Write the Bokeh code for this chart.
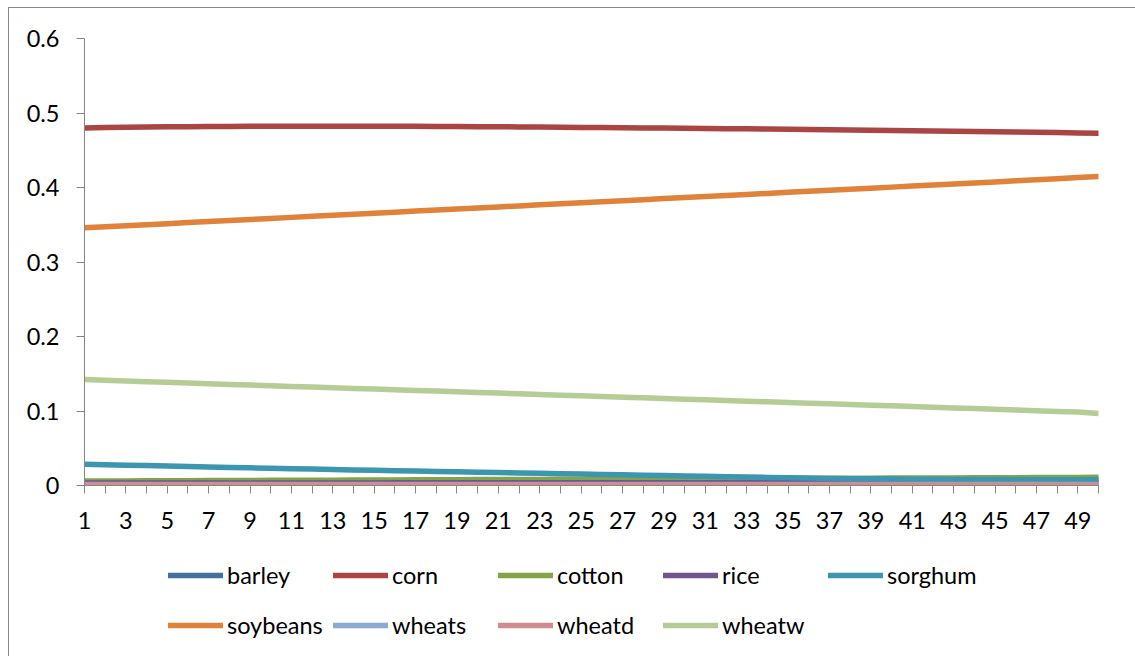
from bokeh.plotting import figure
from bokeh.layouts import column
from bokeh.models import FixedTicker, Legend, LegendItem
from bokeh.embed import file_html
from bokeh.resources import INLINE

# ---- data ----
periods = list(range(1, 51))

barley = [0.0022, 0.0022, 0.0022, 0.0022, 0.0022, 0.0022, 0.0022, 0.0022, 0.0022, 0.0022,
          0.0022, 0.0022, 0.0022, 0.0022, 0.0022, 0.0022, 0.0022, 0.0022, 0.0022, 0.0022,
          0.0021, 0.0021, 0.0021, 0.0021, 0.0021, 0.0021, 0.0021, 0.0021, 0.0021, 0.0021,
          0.0021, 0.0021, 0.0021, 0.0021, 0.0021, 0.0020, 0.0020, 0.0020, 0.0020, 0.0020,
          0.0020, 0.0020, 0.0020, 0.0020, 0.0020, 0.0020, 0.0020, 0.0020, 0.0020, 0.0020]

corn = [0.4800, 0.4804, 0.4808, 0.4811, 0.4814, 0.4816, 0.4818, 0.4820, 0.4821, 0.4822,
        0.4823, 0.4823, 0.4823, 0.4823, 0.4823, 0.4822, 0.4821, 0.4820, 0.4818, 0.4817,
        0.4815, 0.4813, 0.4811, 0.4808, 0.4806, 0.4804, 0.4802, 0.4800, 0.4798, 0.4796,
        0.4793, 0.4790, 0.4787, 0.4784, 0.4781, 0.4778, 0.4775, 0.4772, 0.4769, 0.4766,
        0.4762, 0.4759, 0.4755, 0.4751, 0.4748, 0.4744, 0.4740, 0.4737, 0.4733, 0.4729]

cotton = [0.0060, 0.0061, 0.0062, 0.0063, 0.0064, 0.0065, 0.0066, 0.0067, 0.0068, 0.0069,
          0.0070, 0.0071, 0.0072, 0.0073, 0.0074, 0.0075, 0.0076, 0.0077, 0.0078, 0.0079,
          0.0080, 0.0081, 0.0082, 0.0083, 0.0084, 0.0085, 0.0086, 0.0087, 0.0088, 0.0089,
          0.0090, 0.0091, 0.0092, 0.0093, 0.0094, 0.0095, 0.0096, 0.0097, 0.0098, 0.0099,
          0.0100, 0.0101, 0.0102, 0.0103, 0.0104, 0.0105, 0.0106, 0.0107, 0.0108, 0.0110]

rice = [0.0035, 0.0035, 0.0035, 0.0035, 0.0035, 0.0035, 0.0035, 0.0035, 0.0035, 0.0035,
        0.0035, 0.0035, 0.0035, 0.0035, 0.0035, 0.0036, 0.0036, 0.0036, 0.0036, 0.0036,
        0.0036, 0.0036, 0.0036, 0.0036, 0.0036, 0.0036, 0.0036, 0.0036, 0.0036, 0.0036,
        0.0037, 0.0037, 0.0037, 0.0037, 0.0037, 0.0037, 0.0037, 0.0037, 0.0037, 0.0037,
        0.0037, 0.0037, 0.0037, 0.0037, 0.0037, 0.0037, 0.0037, 0.0037, 0.0037, 0.0037]

sorghum = [0.0286, 0.0280, 0.0273, 0.0267, 0.0261, 0.0255, 0.0249, 0.0243, 0.0237, 0.0231,
           0.0225, 0.0220, 0.0214, 0.0209, 0.0204, 0.0199, 0.0194, 0.0189, 0.0184, 0.0179,
           0.0174, 0.0169, 0.0164, 0.0159, 0.0154, 0.0149, 0.0144, 0.0139, 0.0134, 0.0129,
           0.0124, 0.0119, 0.0114, 0.0109, 0.0104, 0.0099, 0.0095, 0.0092, 0.0089, 0.0087,
           0.0085, 0.0083, 0.0081, 0.0080, 0.0079, 0.0078, 0.0077, 0.0077, 0.0076, 0.0076]

soybeans = [0.3459, 0.3473, 0.3487, 0.3501, 0.3515, 0.3529, 0.3543, 0.3557, 0.3571, 0.3585,
            0.3599, 0.3613, 0.3627, 0.3641, 0.3655, 0.3669, 0.3683, 0.3697, 0.3711, 0.3725,
            0.3739, 0.3753, 0.3767, 0.3781, 0.3795, 0.3809, 0.3823, 0.3837, 0.3851, 0.3865,
            0.3879, 0.3893, 0.3907, 0.3921, 0.3935, 0.3949, 0.3963, 0.3977, 0.3991, 0.4005,
            0.4019, 0.4033, 0.4047, 0.4061, 0.4075, 0.4089, 0.4103, 0.4117, 0.4133, 0.4148]

wheats = [0.0015, 0.0015, 0.0015, 0.0015, 0.0015, 0.0015, 0.0015, 0.0015, 0.0015, 0.0015,
          0.0015, 0.0015, 0.0015, 0.0015, 0.0015, 0.0015, 0.0015, 0.0015, 0.0015, 0.0015,
          0.0015, 0.0015, 0.0015, 0.0015, 0.0015, 0.0014, 0.0014, 0.0014, 0.0014, 0.0014,
          0.0014, 0.0014, 0.0014, 0.0014, 0.0014, 0.0014, 0.0014, 0.0014, 0.0014, 0.0014,
          0.0014, 0.0014, 0.0014, 0.0014, 0.0014, 0.0014, 0.0014, 0.0014, 0.0014, 0.0014]

wheatd = [0.0008, 0.0008, 0.0008, 0.0008, 0.0008, 0.0008, 0.0008, 0.0008, 0.0008, 0.0008,
          0.0008, 0.0008, 0.0008, 0.0008, 0.0008, 0.0008, 0.0008, 0.0008, 0.0008, 0.0008,
          0.0008, 0.0008, 0.0008, 0.0008, 0.0008, 0.0008, 0.0008, 0.0008, 0.0008, 0.0008,
          0.0008, 0.0008, 0.0008, 0.0008, 0.0008, 0.0008, 0.0008, 0.0008, 0.0008, 0.0008,
          0.0008, 0.0008, 0.0008, 0.0008, 0.0008, 0.0008, 0.0008, 0.0008, 0.0008, 0.0008]

wheatw = [0.1423, 0.1413, 0.1404, 0.1394, 0.1385, 0.1375, 0.1366, 0.1357, 0.1348, 0.1339,
          0.1330, 0.1321, 0.1312, 0.1303, 0.1294, 0.1285, 0.1276, 0.1267, 0.1258, 0.1249,
          0.1240, 0.1231, 0.1222, 0.1213, 0.1204, 0.1195, 0.1186, 0.1177, 0.1168, 0.1159,
          0.1150, 0.1141, 0.1132, 0.1123, 0.1114, 0.1105, 0.1096, 0.1087, 0.1078, 0.1069,
          0.1060, 0.1050, 0.1041, 0.1032, 0.1022, 0.1013, 0.1004, 0.0994, 0.0985, 0.0966]

series_names = ["barley", "corn", "cotton", "rice", "sorghum",
                "soybeans", "wheats", "wheatd", "wheatw"]
series_values = [barley, corn, cotton, rice, sorghum, soybeans, wheats, wheatd, wheatw]
series_colors = ["#44709F", "#A94543", "#84A44A", "#70558F", "#3C96B0",
                 "#E0823A", "#8AAAD2", "#D08C8E", "#B5CC94"]

y_ticks = [0, 0.1, 0.2, 0.3, 0.4, 0.5, 0.6]
y_tick_labels = ["0", "0.1", "0.2", "0.3", "0.4", "0.5", "0.6"]
x_label_ticks = list(range(1, 51, 2))
x_minor_ticks = list(range(2, 51, 2))

FONT = "Lato"
FSIZE = "23.5px"
AXIS_COLOR = "#868686"
LINE_W = 5.5

top_css = {
    "background-image": "linear-gradient(#868686, #868686), linear-gradient(#868686, #868686)",
    "background-size": "1px 100%, 100% 1px",
    "background-position": "8px 7px, 8px 7px",
    "background-repeat": "no-repeat",
}
bottom_css = {
    "background-image": "linear-gradient(#868686, #868686)",
    "background-size": "1px 100%",
    "background-position": "8px 0px",
    "background-repeat": "no-repeat",
}

p = figure(width=1135, height=545, output_backend="svg", toolbar_location=None,
           x_range=(1, 50), y_range=(0, 0.6),
           min_border_left=84, min_border_right=37, min_border_top=38, min_border_bottom=60,
           background_fill_color="white", border_fill_alpha=0,
           styles=top_css)
p.outline_line_color = None
p.grid.visible = False

# y axis
p.yaxis.ticker = FixedTicker(ticks=y_ticks)
p.yaxis.major_label_overrides = {t: l for t, l in zip(y_ticks, y_tick_labels)}
p.yaxis.axis_line_color = AXIS_COLOR
p.yaxis.major_tick_line_color = AXIS_COLOR
p.yaxis.major_tick_out = 8
p.yaxis.major_tick_in = 0
p.yaxis.minor_tick_line_color = None
p.yaxis.major_label_standoff = 17
p.yaxis.major_label_text_font = FONT
p.yaxis.major_label_text_font_size = FSIZE
p.yaxis.major_label_text_color = "black"

# x axis
p.xaxis.ticker = FixedTicker(ticks=x_label_ticks, minor_ticks=x_minor_ticks)
p.xaxis.axis_line_color = AXIS_COLOR
p.xaxis.major_tick_line_color = AXIS_COLOR
p.xaxis.minor_tick_line_color = AXIS_COLOR
p.xaxis.major_tick_out = 8
p.xaxis.major_tick_in = 0
p.xaxis.minor_tick_out = 8
p.xaxis.minor_tick_in = 0
p.xaxis.major_label_standoff = 18
p.xaxis.major_label_text_font = FONT
p.xaxis.major_label_text_font_size = FSIZE
p.xaxis.major_label_text_color = "black"

for name, vals, col in zip(series_names, series_values, series_colors):
    p.line(periods, vals, line_color=col, line_width=LINE_W, line_cap="round", line_join="round")

# ---- legend strip under the chart (same series, drawn outside its visible range) ----
lg = figure(width=1135, height=111, output_backend="svg", toolbar_location=None,
            x_range=(-10, -5), y_range=(0, 1),
            min_border_left=0, min_border_right=0, min_border_top=0, min_border_bottom=0,
            background_fill_alpha=0, border_fill_alpha=0, styles=bottom_css)
lg.outline_line_color = None
lg.axis.visible = False
lg.grid.visible = False

items = []
for name, vals, col in zip(series_names, series_values, series_colors):
    r = lg.line(periods, vals, line_color=col, line_width=LINE_W, line_cap="round")
    items.append(LegendItem(label=name, renderers=[r]))

legend = Legend(items=items, orientation="horizontal", nrows=2,
                location=(84, 9), glyph_width=55, glyph_height=44, label_height=44,
                label_width=100, label_standoff=4, spacing=6, padding=0, margin=0,
                border_line_color=None, background_fill_alpha=0,
                label_text_font=FONT, label_text_font_size=FSIZE, label_text_color="black")
lg.add_layout(legend)

layout = column(p, lg, spacing=0)
open("out.html", "w").write(file_html(layout, INLINE))
